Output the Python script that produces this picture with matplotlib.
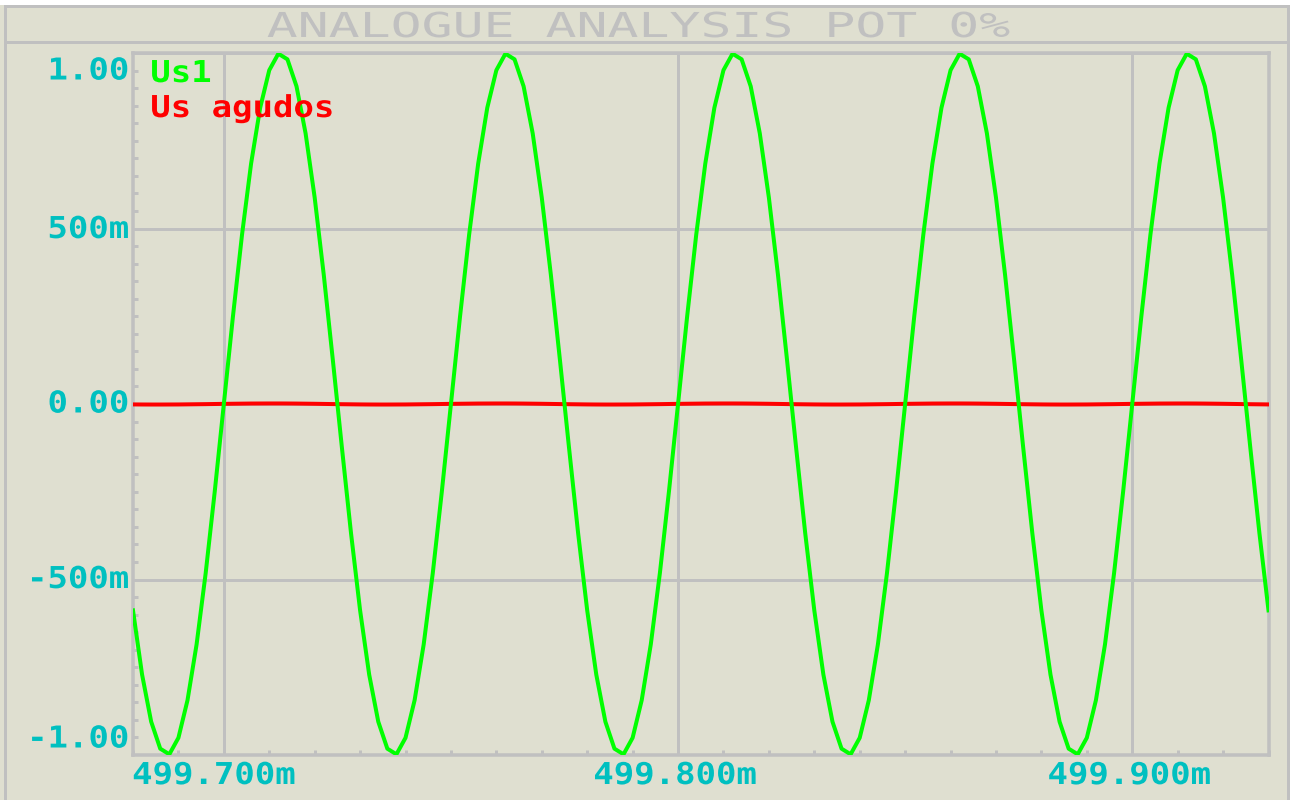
import numpy as np
import matplotlib
matplotlib.use("Agg")
import matplotlib.pyplot as plt
from matplotlib.lines import Line2D
from matplotlib.patches import Rectangle
from matplotlib.path import Path
from matplotlib.patheffects import AbstractPathEffect
from matplotlib.ticker import MultipleLocator
from matplotlib.transforms import Affine2D, ScaledTranslation

# ---------------------------------------------------------------- data
TITLE = "ANALOGUE ANALYSIS POT 0%"
SERIES_NAMES = ["Us1", "Us agudos"]

# time window in ms (samples are evenly spaced over it)
T_START, T_END = 499.680, 499.930
N_SAMPLES = 126

# output voltage Us1 (V)
us1 = [
    -0.588, -0.771, -0.905, -0.982, -0.998, -0.951, -0.844, -0.685, -0.482, -0.249, 0.000, 0.249, 0.482,
    0.685, 0.844, 0.951, 0.998, 0.982, 0.905, 0.771, 0.588, 0.368, 0.125, -0.125, -0.368,
    -0.588, -0.771, -0.905, -0.982, -0.998, -0.951, -0.844, -0.685, -0.482, -0.249, 0.000, 0.249, 0.482,
    0.685, 0.844, 0.951, 0.998, 0.982, 0.905, 0.771, 0.588, 0.368, 0.125, -0.125, -0.368,
    -0.588, -0.771, -0.905, -0.982, -0.998, -0.951, -0.844, -0.685, -0.482, -0.249, 0.000, 0.249, 0.482,
    0.685, 0.844, 0.951, 0.998, 0.982, 0.905, 0.771, 0.588, 0.368, 0.125, -0.125, -0.368,
    -0.588, -0.771, -0.905, -0.982, -0.998, -0.951, -0.844, -0.685, -0.482, -0.249, 0.000, 0.249, 0.482,
    0.685, 0.844, 0.951, 0.998, 0.982, 0.905, 0.771, 0.588, 0.368, 0.125, -0.125, -0.368,
    -0.588, -0.771, -0.905, -0.982, -0.998, -0.951, -0.844, -0.685, -0.482, -0.249, 0.000, 0.249, 0.482,
    0.685, 0.844, 0.951, 0.998, 0.982, 0.905, 0.771, 0.588, 0.368, 0.125, -0.125, -0.368,
    -0.588,
]

# treble output Us agudos (V) - practically flat
us_agudos = [
    -0.0012, -0.0014, -0.0015, -0.0015, -0.0014, -0.0013, -0.0010, -0.0007, -0.0004, 0.0000, 0.0004, 0.0007, 0.0010,
    0.0013, 0.0014, 0.0015, 0.0015, 0.0014, 0.0012, 0.0009, 0.0006, 0.0002, -0.0002, -0.0006, -0.0009,
    -0.0012, -0.0014, -0.0015, -0.0015, -0.0014, -0.0013, -0.0010, -0.0007, -0.0004, 0.0000, 0.0004, 0.0007, 0.0010,
    0.0013, 0.0014, 0.0015, 0.0015, 0.0014, 0.0012, 0.0009, 0.0006, 0.0002, -0.0002, -0.0006, -0.0009,
    -0.0012, -0.0014, -0.0015, -0.0015, -0.0014, -0.0013, -0.0010, -0.0007, -0.0004, 0.0000, 0.0004, 0.0007, 0.0010,
    0.0013, 0.0014, 0.0015, 0.0015, 0.0014, 0.0012, 0.0009, 0.0006, 0.0002, -0.0002, -0.0006, -0.0009,
    -0.0012, -0.0014, -0.0015, -0.0015, -0.0014, -0.0013, -0.0010, -0.0007, -0.0004, 0.0000, 0.0004, 0.0007, 0.0010,
    0.0013, 0.0014, 0.0015, 0.0015, 0.0014, 0.0012, 0.0009, 0.0006, 0.0002, -0.0002, -0.0006, -0.0009,
    -0.0012, -0.0014, -0.0015, -0.0015, -0.0014, -0.0013, -0.0010, -0.0007, -0.0004, 0.0000, 0.0004, 0.0007, 0.0010,
    0.0013, 0.0014, 0.0015, 0.0015, 0.0014, 0.0012, 0.0009, 0.0006, 0.0002, -0.0002, -0.0006, -0.0009,
    -0.0012,
]

Y_TICKS = [1.0, 0.5, 0.0, -0.5, -1.0]
Y_LABELS = ["1.00", "500m", "0.00", "-500m", "-1.00"]
X_TICKS = [499.700, 499.800, 499.900]
X_LABELS = ["499.700m", "499.800m", "499.900m"]

# ---------------------------------------------------------------- style
W, H, DPI = 1290, 800, 100
PX = 72 / DPI                       # points per pixel
BG = "#DFDFD0"
GREY = "#C0C0C0"
CYAN = "#00C0C0"
GREEN = "#00FF00"
RED = "#FF0000"
LABEL_SIZE = 21.7
TITLE_SIZE = 24.7

plt.rcParams["font.family"] = ["DejaVu Sans Mono", "DejaVu Sans"]


class StretchX(AbstractPathEffect):
    """Widen glyph outlines horizontally around the left/centre/right of the ink."""

    def __init__(self, sx, anchor="left"):
        super().__init__()
        self.sx = sx
        self.anchor = anchor

    def draw_path(self, renderer, gc, tpath, affine, rgbFace=None):
        verts = tpath.vertices
        if tpath.codes is not None:
            verts = verts[tpath.codes != Path.CLOSEPOLY]
        xs = verts[:, 0]
        if self.anchor == "left":
            x0 = xs.min()
        elif self.anchor == "right":
            x0 = xs.max()
        else:
            x0 = 0.5 * (xs.min() + xs.max())
        stretch = Affine2D().translate(-x0, 0).scale(self.sx, 1.0).translate(x0, 0)
        renderer.draw_path(gc, tpath, stretch + affine, rgbFace)


def fx(x):
    return x / W


def fy(y):
    return 1 - y / H


fig = plt.figure(figsize=(W / DPI, H / DPI), dpi=DPI, facecolor=BG)

# frame of the graph window
fig.add_artist(Rectangle((0, fy(5)), 1, 5 / H, transform=fig.transFigure,
                         facecolor="white", edgecolor="none", zorder=0))
for (x0, y0, x1, y1) in [(5, 6, 1288, 6), (5, 42, 1288, 42),
                         (5, 6, 5, 800), (1288, 6, 1288, 800)]:
    fig.add_artist(Line2D([fx(x0), fx(x1)], [fy(y0), fy(y1)], transform=fig.transFigure,
                          color=GREY, lw=3 * PX, solid_capstyle="projecting", zorder=1))

fig.text(fx(267), fy(37), TITLE, ha="left", va="baseline", fontsize=TITLE_SIZE,
         color=GREY, fontweight="normal", path_effects=[StretchX(1.5, "left")])

# plotting area
left, right, top, bottom = 133, 1268.5, 53, 755
ax = fig.add_axes([fx(left), fy(bottom), (right - left) / W, (bottom - top) / H])
ax.set_facecolor(BG)

t = np.linspace(T_START, T_END, N_SAMPLES)
ax.plot(t, us_agudos, color=RED, lw=4 * PX, zorder=3)
ax.plot(t, us1, color=GREEN, lw=4 * PX, zorder=4)

ax.set_xlim(T_START, T_END)
ax.set_ylim(-1.0, 1.0)

for s in ax.spines.values():
    s.set_color(GREY)
    s.set_linewidth(3.5 * PX)

ax.set_axisbelow(True)
ax.grid(True, which="major", color=GREY, linewidth=3 * PX)

ax.set_xticks(X_TICKS, X_LABELS)
ax.set_yticks(Y_TICKS, Y_LABELS)
ax.xaxis.set_minor_locator(MultipleLocator(0.01))
ax.yaxis.set_minor_locator(MultipleLocator(0.05))
ax.tick_params(which="major", length=0, labelsize=LABEL_SIZE, labelcolor=CYAN)
ax.tick_params(axis="x", which="major", pad=6 * PX)
ax.tick_params(axis="y", which="major", pad=4 * PX)
ax.tick_params(which="minor", direction="in", length=5 * PX, width=3 * PX, color=GREY)

# x labels: the first one is pushed to the left edge of the plot
x_shift = {499.700: -10, 499.800: -3, 499.900: -3}
xlocs = ax.xaxis.get_majorticklocs()
for tick, loc in zip(ax.xaxis.get_major_ticks(len(xlocs)), xlocs):
    lbl = tick.label1
    lbl.set_fontweight("bold")
    lbl.set_path_effects([StretchX(1.127, "center")])
    dx = x_shift.get(round(float(loc), 3), 0)
    lbl.set_transform(lbl.get_transform() + ScaledTranslation(dx / DPI, 0, fig.dpi_scale_trans))

# y labels: the extreme ones are kept inside the plot height
y_shift = {1.0: 18, 0.5: 1, 0.0: 0, -0.5: 0, -1.0: -16}
ylocs = ax.yaxis.get_majorticklocs()
for tick, loc in zip(ax.yaxis.get_major_ticks(len(ylocs)), ylocs):
    lbl = tick.label1
    lbl.set_fontweight("bold")
    lbl.set_va("center")
    lbl.set_path_effects([StretchX(1.127, "right")])
    dy = y_shift.get(round(float(loc), 2), 0)
    lbl.set_transform(lbl.get_transform() + ScaledTranslation(0, -dy / DPI, fig.dpi_scale_trans))

# trace names
for name, color, base in zip(SERIES_NAMES, [GREEN, RED], [82, 117]):
    fig.text(fx(150.5), fy(base), name, ha="left", va="baseline", fontsize=LABEL_SIZE,
             color=color, fontweight="bold", path_effects=[StretchX(1.127, "left")])

fig.savefig("out.png", dpi=DPI, facecolor=BG)
